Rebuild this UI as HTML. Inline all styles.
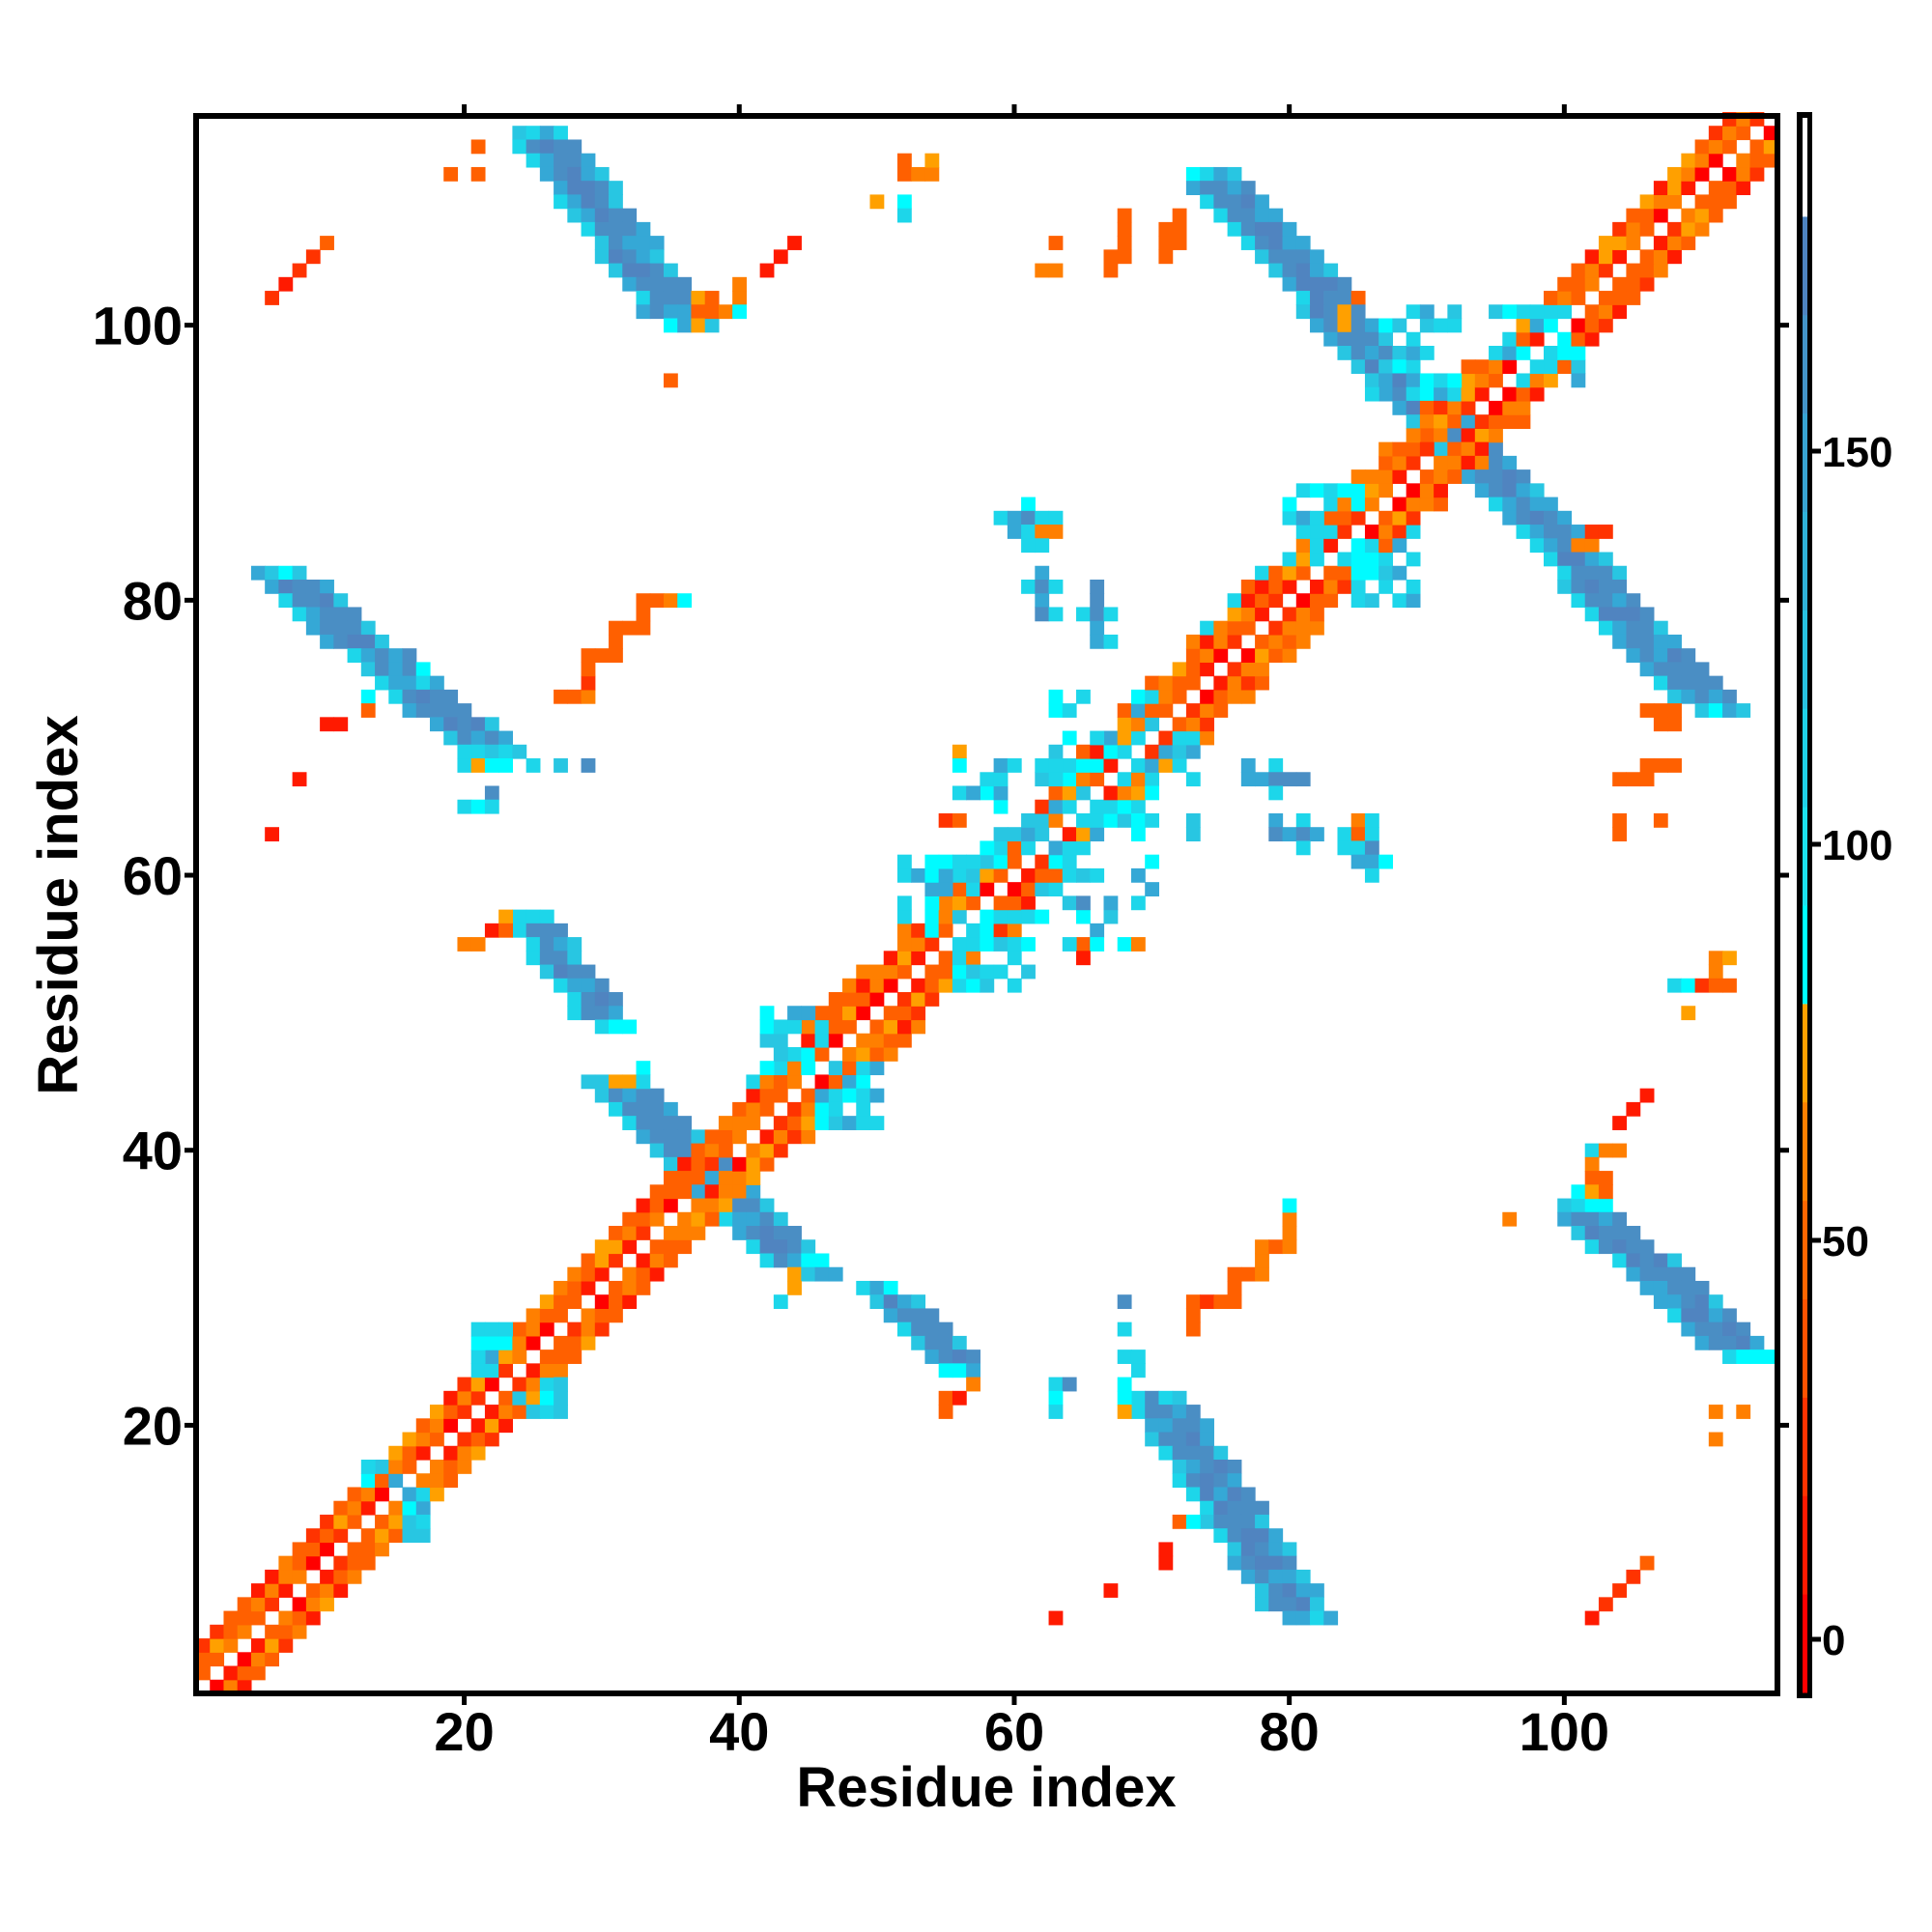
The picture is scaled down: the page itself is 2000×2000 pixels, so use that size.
<!DOCTYPE html>
<html><head><meta charset="utf-8"><style>
html,body{margin:0;padding:0;background:#fff;width:2000px;height:2000px;overflow:hidden}
svg{display:block}
text{font-family:"Liberation Sans",sans-serif;font-weight:bold;fill:#000}
</style></head><body>
<svg id="s" width="2000" height="2000" xmlns="http://www.w3.org/2000/svg">
<g id="cells"></g>
<g id="axes" stroke="#000" fill="none">
<rect x="203" y="120" width="1637" height="1633" stroke-width="6"/>
</g>
<g id="lbl"></g>
<text x="1021" y="1870" font-size="58" text-anchor="middle">Residue index</text>
<text transform="translate(80,937) rotate(-90)" font-size="58" text-anchor="middle">Residue index</text>
</svg>
<script>
(function(){
var N=115,X0=203,Y1=1753,CS=1637/115;
var s=123456789;function rnd(){s^=s<<13;s^=s>>>17;s^=s<<5;return ((s>>>0)%100000)/100000;}
var P={R:'#ff0000',r:'#ff1a00',t:'#ff3300',o:'#ff6000',O:'#ff7f00',a:'#ffa000',
C:'#00fbff',c:'#1dd6ea',d:'#28c6e2',m:'#35a8d6',b:'#4a8ec4',B:'#5084c0'};
var g={};
function set(i,j,c){if(i<1||j<1||i>N||j>N)return;g[i+','+j]=P[c]||c;}
function pick(a){return a[Math.floor(rnd()*a.length)];}
function band(xa,ya,xb,yb,w){
 var n=Math.abs(Math.round(ya)-Math.round(yb));
 var y0=Math.round(ya),dir=yb<ya?-1:1;
 for(var k=0;k<=n;k++){var y=y0+dir*k;var t=n?k/n:0;var xc=xa+t*(xb-xa);
  var ww=(k<1||k>n-1)?w-1:w;
  var lo=Math.round(xc-(ww-1)/2),hi=lo+ww-1;
  for(var x=lo;x<=hi;x++){var c;
   if(k<1||k>n-1)c=pick(['c','C','d','m']);
   else if(x==lo)c=pick(['c','d','m','c']);
   else if(x==hi)c=pick(['m','d','b']);
   else c=pick(['b','b','b','m','B']);
   set(x,y,c);}}
}
band(25.5,114,36,100,5);
band(6.5,82,22,69,5);
band(24.5,56.5,30.5,49,4);
band(30.5,44.5,45,31,5);
band(50,30,56,23.5,4);
band(70.5,21.5,81,5.5,5);
band(101,36,113.5,24.5,5);
band(74,111,111,72,5);
for(var i=1;i<=N;i++){for(var k=1;k<=3;k++){
 var cs1=(k==1)?['r','o','t','O','R','o']:(k==2)?['o','O','o','a','O']:['o','t','O','r','a','o'];
 set(i,i+k,pick(cs1));set(i+k,i,pick(cs1));}
 if(i>40&&i<100&&rnd()<0.5){set(i,i+4,pick(['o','O','c']));set(i+4,i,pick(['o','O','c']));}
}
function patch(x1,x2,y1,y2,p){for(var x=x1;x<=x2;x++)for(var y=y1;y<=y2;y++){
 if(x==y)continue;if(rnd()<p)set(x,y,pick(['c','C','d','m','c']));}}
patch(21,23,24,27,0.8);patch(24,27,21,23,0.8);
patch(13,15,16,17,0.8);patch(16,17,12,15,0.8);
patch(42,46,46,50,0.6);patch(46,50,42,46,0.6);
patch(52,57,56,61,0.6);patch(56,61,52,57,0.6);
patch(58,64,61,68,0.45);patch(61,70,57,64,0.4);
patch(63,70,66,73,0.4);patch(66,73,63,70,0.4);
patch(80,85,83,88,0.6);patch(84,89,80,84,0.6);
patch(86,92,95,101,0.5);patch(95,101,96,101,0.5);
var L="21,113,o 19,111,o 21,111,o 6,102,t 7,103,r 8,104,t 9,105,t 10,106,o "+
"37,102,a 38,102,o 37,101,o 38,101,o 39,101,O 40,102,O 40,103,O 40,101,C 37,100,a 42,104,r 43,105,r 44,106,r 35,96,o "+
"52,112,o 52,111,o 53,111,O 54,111,O 54,112,a 50,109,a 52,109,C 52,108,c "+
"17,75,C 17,74,c 13,73,C 13,72,o 10,71,r 11,71,r "+
"27,73,o 28,73,o 29,73,O 29,74,t 29,75,o 29,76,o 30,76,o 31,76,o 31,77,o 31,78,o 32,78,o 33,78,o 33,79,o 33,80,o 34,80,o 35,80,O 36,80,C "+
"22,66,b 20,65,c 21,65,C 22,65,c 8,67,r 6,63,r 20,69,c 21,69,c 22,69,d 23,69,c 20,68,c 21,68,a 22,68,C 23,68,C 25,68,c 27,68,d 29,68,b "+
"22,56,r 20,55,O 21,55,O 23,57,a 23,56,o 31,45,a 32,45,a 33,46,C 33,45,c 44,31,a 44,30,a 43,29,c 45,32,C 46,32,C "+
"55,22,o 56,22,r 55,21,o 57,23,O "+
"102,40,c 103,40,O 104,40,O 102,39,O 102,38,o 103,38,o 101,37,C 102,37,a 103,37,o 104,42,r 105,43,r 106,44,r 96,35,O "+
"111,54,O 112,54,a 111,53,O 108,52,c 109,52,C 110,52,t 111,52,o 112,52,o 109,50,a 111,21,O 113,21,O 111,19,O "+
"102,6,r 103,7,t 104,8,t 105,9,t 106,10,o "+
"71,11,r 71,10,r 67,8,r 63,6,r 72,13,o 73,13,C 68,29,b 68,27,c 63,23,c 64,23,b 63,22,C 63,21,c 68,25,c 69,25,c 69,24,c 68,23,C 68,22,C 69,22,c 70,22,b 68,21,a "+
"73,27,o 73,28,o 73,29,o 74,29,t 75,29,o 76,29,o 76,30,o 76,31,o 77,31,o 78,31,O 78,32,O 78,33,O 79,33,o 80,33,O 80,34,O 80,35,O 80,36,C "+
"68,108,o 68,107,o 68,106,o 67,105,o 68,105,o 67,104,o 63,106,o 62,104,O 63,104,O 71,107,o 72,107,o 71,106,o 72,106,o 72,108,o 71,105,o "+
"61,87,C 59,86,c 60,86,m 61,86,b 62,86,c 63,86,c 60,85,m 61,85,c 62,85,O 63,85,O 61,84,c 62,84,c "+
"62,82,m 61,81,c 62,81,b 63,81,c 62,80,m 62,79,b 63,79,c 66,81,b 66,80,b 65,79,c 66,79,b 67,79,c 66,78,m 66,77,m 67,77,c "+
"77,68,m 79,68,c 77,67,m 78,67,m 79,67,b 80,67,b 81,67,b 79,66,c "+
"79,64,m 81,64,c 79,63,b 80,63,m 81,63,b 82,63,m 81,62,c 85,64,O 86,64,c 84,63,c 85,63,o 86,63,c 84,62,c 85,62,c 86,62,b 85,61,m 86,61,m 87,61,C 86,60,c "+
"104,67,o 105,67,o 106,67,o 106,68,o 107,68,o 108,68,o 104,64,o 104,63,o 107,64,o 106,72,o 107,72,o 108,72,o 107,71,o 108,71,o 102,85,t 103,85,t 101,84,O 102,84,O "+
"56,69,a 56,68,C 56,66,c 57,66,m 55,64,t 56,64,o 65,58,b 65,57,C 66,56,m 65,55,o 64,55,c 66,55,C 65,54,r 68,55,C 69,55,O 84,101,a 85,102,o 84,100,a";
L.split(' ').forEach(function(e){var q=e.split(',');set(+q[0],+q[1],q[2]);});
var h='';
for(var key in g){var q=key.split(',');var x=+q[0],y=+q[1];
 var px=X0+(x-1)*CS,py=Y1-y*CS;
 h+='<rect x="'+px.toFixed(2)+'" y="'+py.toFixed(2)+'" width="'+(CS+0.6).toFixed(2)+'" height="'+(CS+0.6).toFixed(2)+'" fill="'+g[key]+'"/>';}
document.getElementById('cells').innerHTML=h;
var a='',l='';
for(var v=20;v<=100;v+=20){var xx=X0+(v-0.5)*CS,yy=Y1-(v-0.5)*CS;
 a+='<line x1="'+xx+'" y1="1756" x2="'+xx+'" y2="1765" stroke-width="5"/>';
 a+='<line x1="'+xx+'" y1="117" x2="'+xx+'" y2="108" stroke-width="5"/>';
 a+='<line x1="200" y1="'+yy+'" x2="191" y2="'+yy+'" stroke-width="5"/>';
 a+='<line x1="1843" y1="'+yy+'" x2="1852" y2="'+yy+'" stroke-width="5"/>';
 l+='<text x="'+xx+'" y="1812" font-size="56" text-anchor="middle">'+v+'</text>';
 l+='<text x="189" y="'+(yy+20)+'" font-size="56" text-anchor="end">'+v+'</text>';}
var cols=['#ff0000','#ff1a00','#ff3300','#ff5200','#ff6600','#ff8000','#ffa000','#00ffff','#1ce2ee','#20d2e8','#28c2e0','#30b2d8','#38a4d2','#4494c8','#4e84c0','#ffffff'];
var cb='<rect x="1860" y="116" width="16" height="1642" fill="#000" stroke="none"/>';
var top=122,bot=1752,sh=(bot-top)/16;
for(var k=0;k<16;k++){cb+='<rect x="1866" y="'+(bot-(k+1)*sh).toFixed(2)+'" width="5" height="'+(sh+0.5).toFixed(2)+'" fill="'+cols[k]+'" stroke="none"/>';}
var tk=[[0,1697],[50,1284],[100,874],[150,467]];
tk.forEach(function(t){cb+='<line x1="1876" y1="'+t[1]+'" x2="1885" y2="'+t[1]+'" stroke-width="5"/>';
 l+='<text x="1886" y="'+(t[1]+16)+'" font-size="44">'+t[0]+'</text>';});
document.getElementById('axes').insertAdjacentHTML('beforeend',a+cb);
document.getElementById('lbl').innerHTML=l;
})();
</script>
</body></html>
